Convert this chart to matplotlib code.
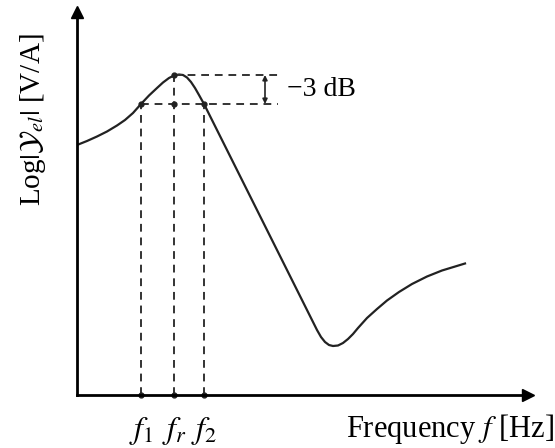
import matplotlib.pyplot as plt

plt.rcParams['mathtext.fontset'] = 'stix'
plt.rcParams['font.family'] = ['Liberation Serif', 'DejaVu Serif']

# impedance magnitude curve (arbitrary units)
freq = [0, 10, 20, 30, 40, 48, 56, 64, 72, 80, 86, 92, 97, 102, 106, 110, 114,
        118, 122, 127, 150, 180, 210, 230, 236, 240, 244, 248, 252, 256, 261,
        266, 271, 276, 281, 290, 300, 310, 322, 335, 350, 365, 388]
level = [250, 254, 258.5, 263.5, 269.5, 275, 282, 291, 299.5, 307, 312.5, 317,
         319.5, 320.5, 320, 317.5, 313, 307, 300, 291, 245, 185, 125, 85, 73, 65,
         58, 53, 50, 49, 49.5, 52, 56, 61, 67, 77, 86, 94.5, 103, 111, 118.5,
         124.5, 131.5]

f1, fr, f2 = 64, 97, 127
y_peak, y_3db = 320, 291
x_end = 201

fig = plt.figure(figsize=(5.55, 4.48), dpi=100)
ax = fig.add_axes([77 / 555, 53 / 448, 451 / 555, 383 / 448])
ax.set_xlim(0, 451)
ax.set_ylim(0, 383)
for s in ['top', 'right']:
    ax.spines[s].set_visible(False)
for s in ['left', 'bottom']:
    ax.spines[s].set_linewidth(2)
ax.set_xticks([])
ax.set_yticks([])
ax.plot(1, 0, '>k', ms=8, transform=ax.transAxes, clip_on=False)
ax.plot(0, 1, '^k', ms=8, transform=ax.transAxes, clip_on=False)

ax.plot(freq, level, color='#222222', lw=1.6)

dash = dict(color='#333333', lw=1.4, ls=(0, (4, 3)))
for f, y in [(f1, y_3db), (fr, y_peak), (f2, y_3db)]:
    ax.plot([f, f], [0, y], **dash)
ax.plot([fr, x_end], [y_peak, y_peak], **dash)
ax.plot([f1, x_end], [y_3db, y_3db], **dash)

ax.plot([f1, fr, f2, fr, f1, fr, f2], [y_3db, y_peak, y_3db, y_3db, 0, 0, 0],
        'o', color='#222222', ms=3.5, clip_on=False)

ax.annotate('', xy=(188, y_3db), xytext=(188, y_peak),
            arrowprops=dict(arrowstyle='<|-|>', color='#222222', lw=1.2,
                            mutation_scale=7, shrinkA=0, shrinkB=0))
ax.text(210, 306, '\u22123 dB', fontsize=20, va='center', ha='left')

for f, lab in [(f1, '$f_1$'), (fr, '$f_r$'), (f2, '$f_2$')]:
    ax.text(f, -36, lab, fontsize=23, ha='center', va='center', clip_on=False)
ax.text(477, -34, 'Frequency $f$ [Hz]', fontsize=22, ha='right', va='center')
ax.text(-44, 275, r'Log$|\mathcal{Y}_{el}|$ [V/A]', fontsize=21, rotation=90,
        ha='center', va='center')

fig.savefig('out.png', dpi=100)
